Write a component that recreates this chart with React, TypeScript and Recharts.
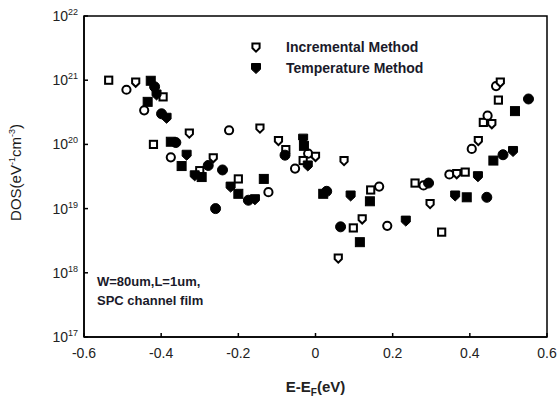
import React from "react"
import {
  ScatterChart,
  Scatter,
  XAxis,
  YAxis,
  ReferenceArea,
} from "recharts"

// Incremental method (open markers)
const incX = [
  -0.536, -0.49, -0.466, -0.395, -0.444, -0.327, -0.42, -0.375, -0.265, -0.3,
  -0.224, -0.144, -0.2, -0.122, -0.096, -0.077, -0.019, 0.0, -0.032, -0.053,
  0.074, 0.143, 0.165, 0.121, 0.098, 0.186, 0.059, 0.258, 0.28, 0.297,
  0.327, 0.347, 0.366, 0.388, 0.405, 0.422, 0.435, 0.446, 0.457, 0.474,
  0.468, 0.479,
]
const incDos = [
  1.0e21, 7.1e20, 9.3e20, 5.5e20, 3.4e20, 1.5e20, 1.0e20, 6.3e19, 6.2e19, 3.9e19,
  1.66e20, 1.8e20, 2.9e19, 1.8e19, 1.15e20, 8.3e19, 7.2e19, 6.5e19, 5.6e19, 4.2e19,
  5.6e19, 1.95e19, 2.2e19, 6.9e18, 5.0e18, 5.4e18, 1.7e18, 2.5e19, 2.3e19, 1.2e19,
  4.3e18, 3.4e19, 3.5e19, 3.7e19, 8.5e19, 1.15e20, 2.2e20, 2.8e20, 2.1e20, 4.9e20,
  8.1e20, 9.3e20,
]

// Temperature method (filled markers)
const tempX = [
  -0.427, -0.417, -0.412, -0.435, -0.399, -0.386, -0.375, -0.362, -0.334, -0.347,
  -0.278, -0.313, -0.295, -0.241, -0.22, -0.2, -0.174, -0.157, -0.134, -0.259,
  -0.032, -0.03, -0.079, -0.02, 0.02, 0.029, 0.091, 0.141, 0.065, 0.234,
  0.115, 0.293, 0.362, 0.392, 0.444, 0.421, 0.461, 0.486, 0.512, 0.517,
  0.552,
]
const tempDos = [
  9.8e20, 7.9e20, 6.0e20, 4.6e20, 3.0e20, 2.6e20, 1.1e20, 1.07e20, 6.9e19, 4.6e19,
  4.7e19, 3.3e19, 3.1e19, 4.0e19, 2.2e19, 1.7e19, 1.35e19, 1.4e19, 2.9e19, 1.0e19,
  1.23e20, 9.5e19, 6.8e19, 4.7e19, 1.7e19, 1.86e19, 1.6e19, 1.3e19, 5.2e18, 6.5e18,
  3.0e18, 2.5e19, 1.6e19, 1.5e19, 1.5e19, 3.2e19, 5.6e19, 6.9e19, 7.9e19, 3.3e20,
  5.1e20,
]

const xTicks = [-0.6, -0.4, -0.2, 0, 0.2, 0.4, 0.6]
const yTicks = [1e17, 1e18, 1e19, 1e20, 1e21, 1e22]
const seriesNames = ["Incremental Method", "Temperature Method"]

const incData = incX.map((x, i) => ({ x, y: incDos[i] }))
const tempData = tempX.map((x, i) => ({ x, y: tempDos[i] }))

const FONT = "Arial, 'Liberation Sans', sans-serif"

function Marker({ cx, cy, index, filled }: any) {
  if (cx == null || cy == null) return null
  const kind = (index ?? 0) % 3
  const fill = filled ? "#000" : "#fff"
  const sw = filled ? 1 : 2
  const r = filled ? 4.5 : 3.6
  if (kind === 0) {
    return <rect x={cx - r} y={cy - r} width={r * 2} height={r * 2} fill={fill} stroke="#000" strokeWidth={sw} />
  }
  if (kind === 1) {
    return <circle cx={cx} cy={cy} r={r + 0.5} fill={fill} stroke="#000" strokeWidth={sw} />
  }
  const pts = [
    [cx - r, cy - r],
    [cx + r, cy - r],
    [cx + r, cy + r * 0.3],
    [cx, cy + r + 1],
    [cx - r, cy + r * 0.3],
  ]
    .map((p) => p.join(","))
    .join(" ")
  return <polygon points={pts} fill={fill} stroke="#000" strokeWidth={sw} />
}

function YTick({ x, y, payload }: any) {
  const exp = Math.round(Math.log10(payload.value))
  return (
    <text x={x} y={y + 5} textAnchor="end" fontFamily={FONT} fontSize={14} fill="#222">
      <tspan>10</tspan>
      <tspan dy={-6} fontSize={9}>{exp}</tspan>
    </text>
  )
}

function XTick({ x, y, payload }: any) {
  return (
    <text x={x} y={y + 13} textAnchor="middle" fontFamily={FONT} fontSize={14} fill="#222">
      {payload.value}
    </text>
  )
}

function YLabel({ viewBox }: any) {
  const cx = 21
  const cy = viewBox.y + viewBox.height / 2 - 4
  return (
    <text
      x={cx}
      y={cy}
      transform={`rotate(-90 ${cx} ${cy})`}
      textAnchor="middle"
      fontFamily={FONT}
      fontSize={15}
      fill="#1a1a1a"
    >
      <tspan>DOS(eV</tspan>
      <tspan dy={-6} fontSize={9}>-1</tspan>
      <tspan dy={6}>cm</tspan>
      <tspan dy={-6} fontSize={9}>-3</tspan>
      <tspan dy={6}>)</tspan>
    </text>
  )
}

function XLabel({ viewBox }: any) {
  const cx = viewBox.x + viewBox.width / 2
  return (
    <text x={cx} y={392} textAnchor="middle" fontFamily={FONT} fontSize={15} fontWeight="bold" fill="#222">
      <tspan>E-E</tspan>
      <tspan dy={4} fontSize={10}>F</tspan>
      <tspan dy={-4}>(eV)</tspan>
    </text>
  )
}

function LegendBox() {
  return (
    <div
      style={{
        position: "absolute",
        left: 246,
        top: 37,
        fontFamily: FONT,
        fontSize: 14,
        fontWeight: "bold",
        color: "#1a1a2a",
        lineHeight: "21px",
      }}
    >
      {seriesNames.map((name, i) => (
        <div key={name} style={{ display: "flex", alignItems: "center" }}>
          <svg width={40} height={21}>
            <Marker cx={10} cy={10} index={2} filled={i === 1} />
          </svg>
          <span>{name}</span>
        </div>
      ))}
    </div>
  )
}

export default function App() {
  return (
    <div style={{ position: "absolute", left: 0, top: 0, width: 559, height: 403, background: "#fff" }}>
      <ScatterChart width={559} height={403} margin={{ top: 16, right: 12, bottom: 36, left: 0 }}>
        <XAxis
          type="number"
          dataKey="x"
          domain={[-0.6, 0.6]}
          ticks={xTicks}
          allowDataOverflow
          height={30}
          axisLine={{ stroke: "#000", strokeWidth: 1.5 }}
          tickLine={{ stroke: "#000", strokeWidth: 1.5 }}
          tickSize={-4}
          tickMargin={12}
          tick={<XTick />}
          label={<XLabel />}
        />
        <YAxis
          type="number"
          dataKey="y"
          scale="log"
          domain={[1e17, 1e22]}
          ticks={yTicks}
          allowDataOverflow
          width={84}
          axisLine={{ stroke: "#000", strokeWidth: 1.5 }}
          tickLine={{ stroke: "#000", strokeWidth: 1.5 }}
          tickSize={-4}
          tickMargin={10}
          tick={<YTick />}
          label={<YLabel />}
        />
        <ReferenceArea
          x1={-0.6}
          x2={0.6}
          y1={1e17}
          y2={1e22}
          fill="none"
          fillOpacity={0}
          stroke="#000"
          strokeWidth={1.5}
          ifOverflow="visible"
        />
        <Scatter
          name={seriesNames[0]}
          data={incData}
          isAnimationActive={false}
          shape={(p: any) => <Marker {...p} filled={false} />}
        />
        <Scatter
          name={seriesNames[1]}
          data={tempData}
          isAnimationActive={false}
          shape={(p: any) => <Marker {...p} filled={true} />}
        />
      </ScatterChart>
      <LegendBox />
      <div
        style={{
          position: "absolute",
          left: 97,
          top: 272,
          fontFamily: FONT,
          fontSize: 13,
          fontWeight: "bold",
          color: "#1a1a2a",
          lineHeight: "19px",
        }}
      >
        W=80um,L=1um,
        <br />
        SPC channel film
      </div>
    </div>
  )
}
